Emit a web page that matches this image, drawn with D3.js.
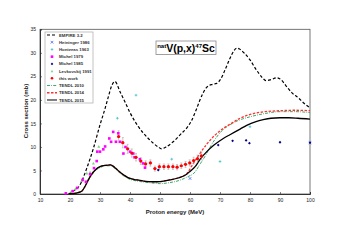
<!DOCTYPE html>
<html><head><meta charset="utf-8">
<script src="https://cdn.jsdelivr.net/npm/d3@7/dist/d3.min.js"></script>
<style>body{margin:0;background:#fff}svg{display:block;font-family:"Liberation Sans",Arial,sans-serif}</style>
</head><body><svg id="c" width="351" height="248"></svg>
<script>
// ---- data ----
const xTicks = [10,20,30,40,50,60,70,80,90,100];
const yTicks = [0,5,10,15,20,25,30,35];
const empireE = [19.5,21,23.3,25.6,27.8,30,31.7,32.8,33.9,35,36.7,38.3,40,42.8,46.1,49.4,50.5,52,54.4,57.2,58.9,60.6,62,64,65.6,67.5,68.9,70.3,71.7,73.3,74.5,75.6,76.5,78,80,82,84,85.3,87,89,90.5,92,94,96,98,100];
const empireV = [0,0.6,1.9,5.5,9.7,14.7,18.2,20.7,23,23.9,21.7,19.6,17.3,14.3,11.8,10.0,9.6,10.0,11.1,12.9,14.0,15.7,17.8,21,22.7,23.3,23.5,24.5,26.4,28.8,30.3,31,30.8,30,28.5,26.5,24.8,24.1,24.3,24.7,24.2,23,21.5,20.5,19.3,18.3];
const t15E = [20,22,23.9,25,26.1,27,28.1,30,32,33.5,35,36.7,38.5,40,42.2,45,47.8,50,53.3,56,58.9,60,61.7,63.3,65.6,68,71.1,73.3,76.7,78.9,82,84.4,87,90,93,96,100];
const t15V = [0,0.2,0.6,1.6,3,4,4.9,5.8,6.1,6.2,5.6,4.6,3.8,3.3,3.0,2.7,2.6,2.65,3.0,3.4,4.2,4.8,5.8,7.3,9.0,10.4,11.8,12.6,13.8,14.6,15.4,15.8,16.1,16.2,16.2,16.1,15.9];
const t14E = [20,22,23.9,25,26.1,27,28.1,30,32,33.5,35,36.7,38.5,40,42.2,45,47.8,50,53.3,56,58.9,61,63.3,65.6,68,71,73.3,76.7,79,82,85,90,95,100];
const t14V = [0,0.2,0.6,1.6,3,4,4.9,5.8,6.1,6.2,5.6,4.6,3.8,3.3,3.0,2.7,2.6,2.65,3.0,3.4,4.3,6.4,8.6,10.6,12.3,13.9,14.8,16.1,16.7,17.2,17.5,17.7,17.8,17.7];
const t10E = [20,22,24,25,26,27,28,30,32,33.5,35,36.7,38.5,40,42,45,48,50,53,56,59,61.7,63,65,67,70,75,80,85,90,95,100];
const t10V = [0,0.2,0.6,1.5,2.8,3.8,4.7,5.6,6.0,6.0,5.4,4.4,3.6,3.1,2.8,2.5,2.3,2.2,2.4,2.8,3.6,4.7,6.0,8.0,10.3,13.0,15.3,16.4,17.1,17.5,17.5,17.3];
const heiningerE = [60,100];
const heiningerV = [3.3,10.9];
const hontzeasE = [35.8,42,53.9,70,80];
const hontzeasV = [16.1,21.0,7.4,6.9,14.3];
const michel79E = [18.6,20.9,22.4,24.2,25.3,26.7,28.0,28.9,29.1,30.0,31.1,31.7,33.1,33.7,34.4,35.3,36.1,36.7,37.8,38.5,40.0,41.1,41.5,43.3,44.4,45.0];
const michel79V = [0.15,0.6,1.3,3.0,2.6,4.2,5.5,7.0,9.0,9.0,9.5,10.1,11.8,11.1,13.2,11.1,12.9,11.1,8.6,10.0,9.0,8.6,7.8,7.4,6.5,5.6];
const michel85E = [49.4,69.4,74.2,78.7,79.8,90,100];
const michel85V = [5.1,10.4,11.3,11.4,10.8,11.0,10.9];
const levkE = [20.4,21.8,23.9,25.6,26.7,27.8,29.6];
const levkV = [0.5,1.1,2.8,4.4,4.6,6.5,10.1];
const workE = [36.2,37.6,39.2,40.6,42.0,43.6,45.2,46.8,48.3,49.8,51.3,52.8,54.3,55.7,57.1,58.5,59.9,61.2,62.5,63.8];
const workV = [12.2,10.9,9.6,8.7,7.8,7.0,6.4,6.6,5.4,5.8,5.8,5.8,5.8,5.7,6.0,6.3,6.6,7.1,7.5,8.1];
const legendLabels = ["EMPIRE 3.2","Heininger 1986","Hontzeas 1963","Michel 1979","Michel 1985","Levkovskij 1991","this work","TENDL 2010","TENDL 2014","TENDL 2015"];

// ---- chart ----
const svg = d3.select("#c");
const x = d3.scaleLinear().domain([10,100]).range([40,310]);
const y = d3.scaleLinear().domain([0,35]).range([194,29.3]);
const zip = (a,b)=>a.map((d,i)=>[d,b[i]]);

const g = svg.append("g");
g.append("rect").attr("x",40).attr("y",29.3).attr("width",270).attr("height",164.7)
  .attr("fill","none").attr("stroke","#555").attr("stroke-width",0.8);

const xa = g.append("g").attr("transform","translate(0,194)")
  .call(d3.axisBottom(x).tickValues(xTicks).tickSize(-2).tickPadding(4));
const ya = g.append("g").attr("transform","translate(40,0)")
  .call(d3.axisLeft(y).tickValues(yTicks).tickSize(-2).tickPadding(4));
[xa,ya].forEach(a=>{a.select(".domain").attr("stroke","#333").attr("stroke-width",1);
  a.selectAll("line").attr("stroke","#333").attr("stroke-width",0.6);
  a.selectAll("text").attr("font-size",5).attr("fill","#222").attr("font-family","Liberation Sans, Arial");});

svg.append("text").attr("x",175).attr("y",214).attr("text-anchor","middle")
  .attr("font-size",6).attr("font-weight","bold").attr("fill","#222").text("Proton energy (MeV)");
svg.append("text").attr("transform","translate(28,111) rotate(-90)").attr("text-anchor","middle")
  .attr("font-size",6).attr("font-weight","bold").attr("fill","#222").text("Cross section (mb)");

const line = d3.line().x(d=>x(d[0])).y(d=>y(d[1])).curve(d3.curveMonotoneX);
const plot = svg.append("g");

plot.append("path").datum(zip(t10E,t10V)).attr("d",line).attr("fill","none")
  .attr("stroke","#3aaa6a").attr("stroke-width",1).attr("stroke-dasharray","3,1.2,0.8,1.2");
plot.append("path").datum(zip(t14E,t14V)).attr("d",line).attr("fill","none")
  .attr("stroke","#ff3030").attr("stroke-width",1.3).attr("stroke-dasharray","2.5,1.5");
plot.append("path").datum(zip(t15E,t15V)).attr("d",line).attr("fill","none")
  .attr("stroke","#000").attr("stroke-width",1.3);
plot.append("path").datum(zip(empireE,empireV)).attr("d",line).attr("fill","none")
  .attr("stroke","#000").attr("stroke-width",1.2).attr("stroke-dasharray","3,2");

// markers
function drawSym(sel, type, color, s){
  if(type==="x"){ sel.append("path").attr("d",`M${-s},${-s}L${s},${s}M${-s},${s}L${s},${-s}`).attr("stroke",color).attr("stroke-width",0.8).attr("fill","none"); }
  else if(type==="+"){ sel.append("path").attr("d",`M${-s},0L${s},0M0,${-s}L0,${s}`).attr("stroke",color).attr("stroke-width",0.8).attr("fill","none"); }
  else if(type==="sq"){ sel.append("rect").attr("x",-s).attr("y",-s).attr("width",2*s).attr("height",2*s).attr("fill",color); }
  else if(type==="dia"){ sel.append("path").attr("d",`M0,${-s}L${s},0L0,${s}L${-s},0Z`).attr("fill",color); }
  else if(type==="tri"){ sel.append("path").attr("d",`M0,${-s}L${s},${s*0.8}L${-s},${s*0.8}Z`).attr("fill",color); }
  else if(type==="circ"){ sel.append("circle").attr("r",s).attr("fill",color); }
}
function scatter(E,V,type,color,s){
  plot.append("g").selectAll("g").data(zip(E,V)).join("g")
    .attr("transform",d=>`translate(${x(d[0])},${y(d[1])})`)
    .each(function(){drawSym(d3.select(this),type,color,s);});
}
// error bars for this work
const eb = plot.append("g").attr("stroke","#999").attr("stroke-width",0.5);
zip(workE,workV).forEach(d=>{
  const dv = d[1]*0.1, de = 0.6;
  eb.append("line").attr("x1",x(d[0])).attr("x2",x(d[0])).attr("y1",y(d[1]-dv)).attr("y2",y(d[1]+dv));
  eb.append("line").attr("x1",x(d[0])-1).attr("x2",x(d[0])+1).attr("y1",y(d[1]-dv)).attr("y2",y(d[1]-dv));
  eb.append("line").attr("x1",x(d[0])-1).attr("x2",x(d[0])+1).attr("y1",y(d[1]+dv)).attr("y2",y(d[1]+dv));
  eb.append("line").attr("x1",x(d[0]-de)).attr("x2",x(d[0]+de)).attr("y1",y(d[1])).attr("y2",y(d[1]));
});
scatter(levkE,levkV,"tri","#7fd17f",1.5);
scatter(michel79E,michel79V,"sq","#ff00ff",1.3);
scatter(hontzeasE,hontzeasV,"+","#40c0c8",1.3);
scatter(heiningerE,heiningerV,"x","#4060ff",1.3);
scatter(michel85E,michel85V,"dia","#000080",1.4);
scatter(workE,workV,"circ","#ff0000",1.6);

// legend
const lg = svg.append("g");
lg.append("rect").attr("x",45).attr("y",32).attr("width",48).attr("height",71)
  .attr("fill","#fff").attr("stroke","#aaa").attr("stroke-width",0.7);
const ly0 = 35, ldy = 7.22;
legendLabels.forEach((lab,i)=>{
  const yy = ly0 + i*ldy;
  const it = lg.append("g");
  if(i===0) it.append("line").attr("x1",47).attr("x2",57).attr("y1",yy).attr("y2",yy).attr("stroke","#000").attr("stroke-width",1.2).attr("stroke-dasharray","3,2");
  if(i===7) it.append("line").attr("x1",47).attr("x2",57).attr("y1",yy).attr("y2",yy).attr("stroke","#3aaa6a").attr("stroke-width",1).attr("stroke-dasharray","3,1.2,0.8,1.2");
  if(i===8) it.append("line").attr("x1",47).attr("x2",57).attr("y1",yy).attr("y2",yy).attr("stroke","#ff3030").attr("stroke-width",1.3).attr("stroke-dasharray","2.5,1.5");
  if(i===9) it.append("line").attr("x1",47).attr("x2",57).attr("y1",yy).attr("y2",yy).attr("stroke","#555").attr("stroke-width",1.5);
  const sym = [null,"x","+","sq","dia","tri","circ"][i];
  const col = [null,"#4060ff","#40c0c8","#ff00ff","#000080","#7fd17f","#ff0000"][i];
  if(sym){ const m = it.append("g").attr("transform",`translate(52,${yy})`); drawSym(m,sym,col,1.3); }
  it.append("text").attr("x",59).attr("y",yy+1.6).attr("font-size",4.3).attr("font-weight","bold").attr("fill","#333").text(lab);
});

// title box
const tb = svg.append("g");
tb.append("rect").attr("x",156).attr("y",41).attr("width",60).attr("height",13.5)
  .attr("fill","#fff").attr("stroke","#888").attr("stroke-width",0.8);
const tt = tb.append("text").attr("x",186).attr("y",51.5).attr("text-anchor","middle").attr("font-weight","bold").attr("fill","#000");
tt.append("tspan").attr("font-size",6).attr("dy",-3.5).text("nat");
tt.append("tspan").attr("font-size",10.5).attr("dy",3.5).text("V(p,x)");
tt.append("tspan").attr("font-size",6).attr("dy",-3.5).text("47");
tt.append("tspan").attr("font-size",10.5).attr("dy",3.5).text("Sc");
</script></body></html>
